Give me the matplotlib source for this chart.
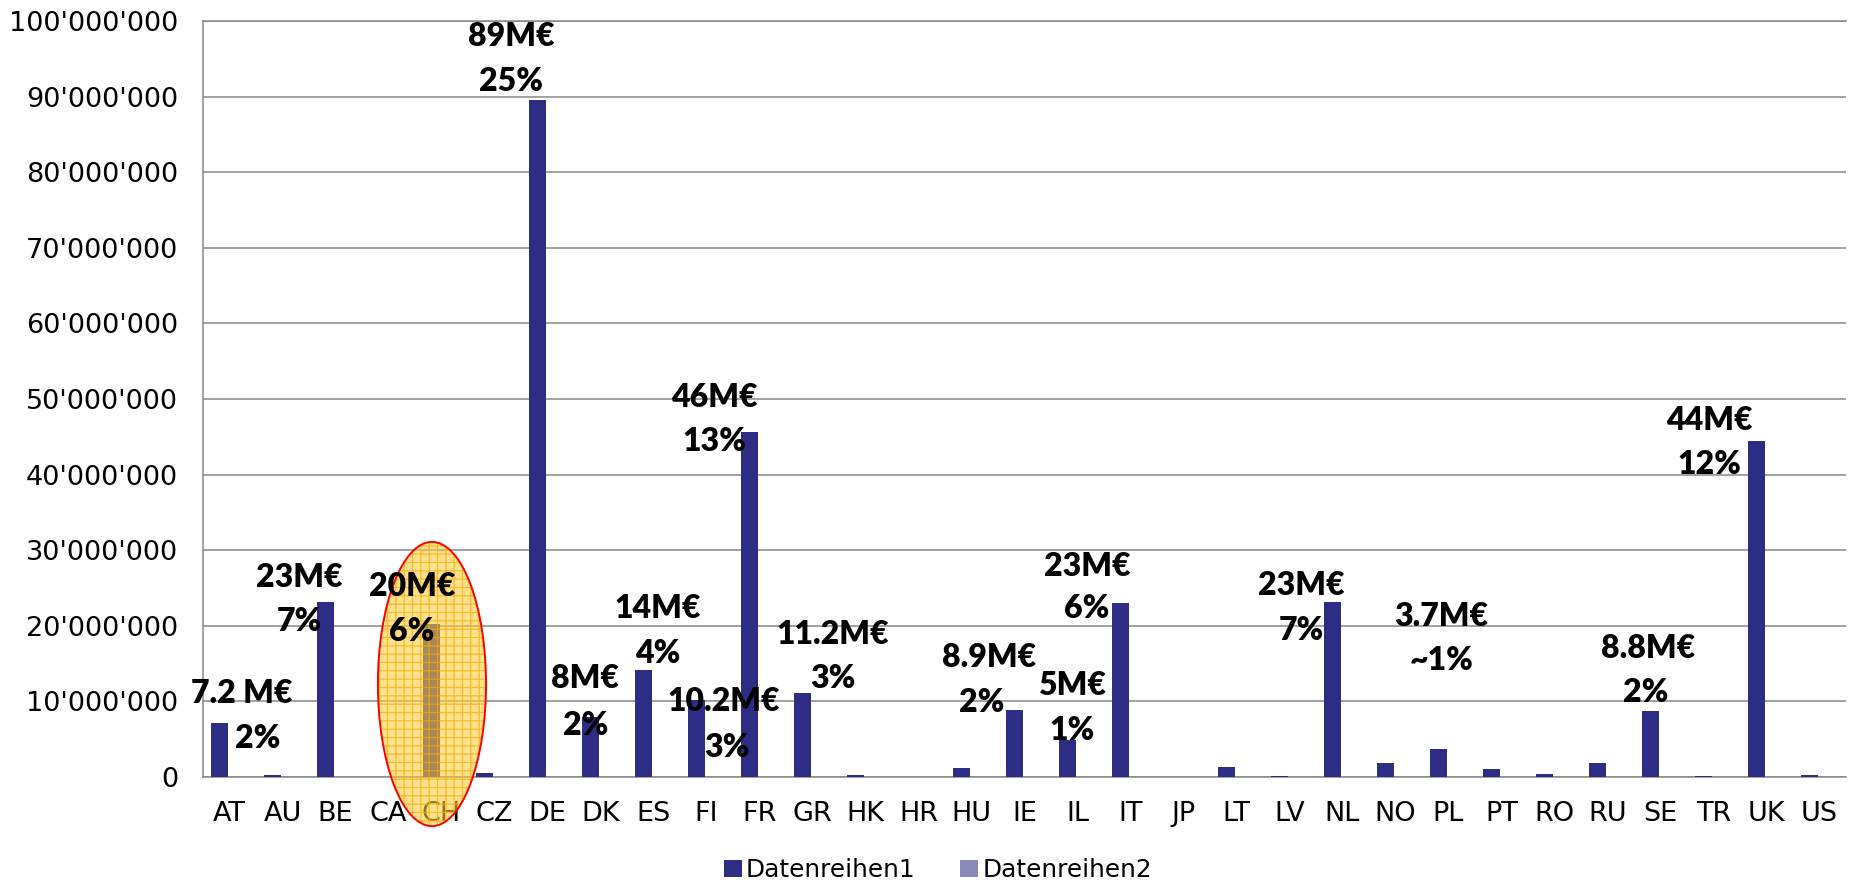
import matplotlib
matplotlib.use("Agg")
import matplotlib.pyplot as plt
import matplotlib.transforms as mtransforms
from matplotlib.patches import Ellipse
from matplotlib.ticker import FuncFormatter
import numpy as np

# ---------------- data ----------------
categories = ['AT', 'AU', 'BE', 'CA', 'CH', 'CZ', 'DE', 'DK', 'ES', 'FI', 'FR',
              'GR', 'HK', 'HR', 'HU', 'IE', 'IL', 'IT', 'JP', 'LT', 'LV', 'NL',
              'NO', 'PL', 'PT', 'RO', 'RU', 'SE', 'TR', 'UK', 'US']
series1 = [7.2e6, 0.3e6, 23.2e6, 0.0, 20.2e6, 0.5e6, 89.5e6, 7.9e6, 14.1e6, 10.2e6, 45.7e6,
           11.1e6, 0.3e6, 0.0, 1.2e6, 8.8e6, 4.95e6, 23.0e6, 0.0, 1.3e6, 0.15e6, 23.2e6,
           1.8e6, 3.7e6, 1.1e6, 0.4e6, 1.85e6, 8.7e6, 0.15e6, 44.4e6, 0.25e6]
series2 = [0.0] * len(categories)
series_names = ['Datenreihen1', 'Datenreihen2']
yticks = np.arange(0, 100e6 + 1, 10e6)

# annotation text (two lines per label)
label_top = ['7.2 M€', '23M€', '20M€', '89M€', '8M€', '14M€', '10.2M€', '46M€', '11.2M€',
             '8.9M€', '5M€', '23M€', '23M€', '3.7M€', '8.8M€', '44M€']
label_bot = ['2%', '7%', '6%', '25%', '2%', '4%', '3%', '13%', '3%',
             '2%', '1%', '6%', '7%', '~1%', '2%', '12%']
# label positions (x in category units, y in millions, line centres)
label_top_x = [0.24, 1.32, 3.44, 5.31, 6.71, 8.08, 9.33, 9.14, 11.38,
               14.33, 15.90, 16.19, 20.22, 22.87, 26.77, 27.93]
label_top_y = [11.3, 26.6, 25.4, 98.2, 13.3, 22.5, 10.2, 50.5, 19.1,
               16.1, 12.4, 28.1, 25.65, 21.5, 17.2, 47.4]
label_bot_x = [0.54, 1.32, 3.44, 5.31, 6.72, 8.08, 9.38, 9.15, 11.38,
               14.20, 15.90, 16.17, 20.22, 22.87, 26.72, 27.93]
label_bot_y = [5.3, 20.8, 19.5, 92.3, 7.1, 16.6, 4.2, 44.6, 13.3,
               10.1, 6.45, 22.6, 19.7, 15.7, 11.4, 41.6]

# ---------------- style ----------------
W, H, DPI = 1852, 883, 100
c1 = '#2E2D86'
c2 = '#8A8AB9'
grid_c = '#878787'
plt.rcParams['font.family'] = ['DejaVu Sans']
plt.rcParams['hatch.linewidth'] = 0.9

fig = plt.figure(figsize=(W / DPI, H / DPI), dpi=DPI)
ax = fig.add_axes([203 / W, 1 - 777 / H, (1846 - 203) / W, (777 - 21) / H])

x = np.arange(len(categories))
bw = 0.33
ax.bar(x - 0.19, series1, width=bw, color=c1, label=series_names[0], zorder=3)
ax.bar(x + 0.14, series2, width=bw, color=c2, label=series_names[1], zorder=3)

ax.set_xlim(-0.5, len(categories) - 0.5)
ax.set_ylim(0, 100e6)
ax.set_yticks(yticks)
ax.yaxis.set_major_formatter(FuncFormatter(lambda v, p: f"{int(round(v)):,}".replace(',', "'")))
ax.set_xticks(x)
ax.set_xticklabels(categories)
ax.tick_params(axis='both', length=0, labelsize=19.5, colors='black')
ax.tick_params(axis='y', pad=18)
ax.tick_params(axis='x', pad=17)
ax.yaxis.grid(True, color=grid_c, linewidth=1.1, zorder=0)
ax.set_axisbelow(True)
for s in ['left', 'bottom', 'top']:
    ax.spines[s].set_color(grid_c)
    ax.spines[s].set_linewidth(1.1)
ax.spines['right'].set_visible(False)

# highlight ellipse around CH (drawn above tick labels)
cx = categories.index('CH') - 0.18
e_fill = Ellipse((cx, 12.3e6), 2.04, 37.6e6, transform=ax.transData,
                 facecolor=(1.0, 0.80, 0.22, 0.58), edgecolor=(0.96, 0.68, 0.05, 0.75),
                 linewidth=0, hatch='++', zorder=5)
e_edge = Ellipse((cx, 12.3e6), 2.04, 37.6e6, transform=ax.transData,
                 facecolor='none', edgecolor='#FF0000', linewidth=1.4, zorder=5.5)
fig.add_artist(e_fill)
fig.add_artist(e_edge)

# annotation labels
tr = mtransforms.offset_copy(ax.transData, fig=fig, x=0, y=-11.5, units='dots')
lab_font = dict(family=['Lato', 'DejaVu Sans'], fontweight='heavy', fontsize=23,
                color='black', ha='center', va='baseline', zorder=7)
for t, xx, yy in zip(label_top, label_top_x, label_top_y):
    fig.text(xx, yy * 1e6, t, transform=tr, **lab_font)
for t, xx, yy in zip(label_bot, label_bot_x, label_bot_y):
    fig.text(xx, yy * 1e6, t, transform=tr, **lab_font)

leg = fig.legend(loc='center', bbox_to_anchor=(938 / W, 1 - 870 / H), ncol=2,
                 frameon=False, fontsize=17.8, handlelength=0.72, handleheight=0.72,
                 handletextpad=0.17, columnspacing=1.8, borderpad=0)

fig.savefig('out.png', dpi=DPI)
